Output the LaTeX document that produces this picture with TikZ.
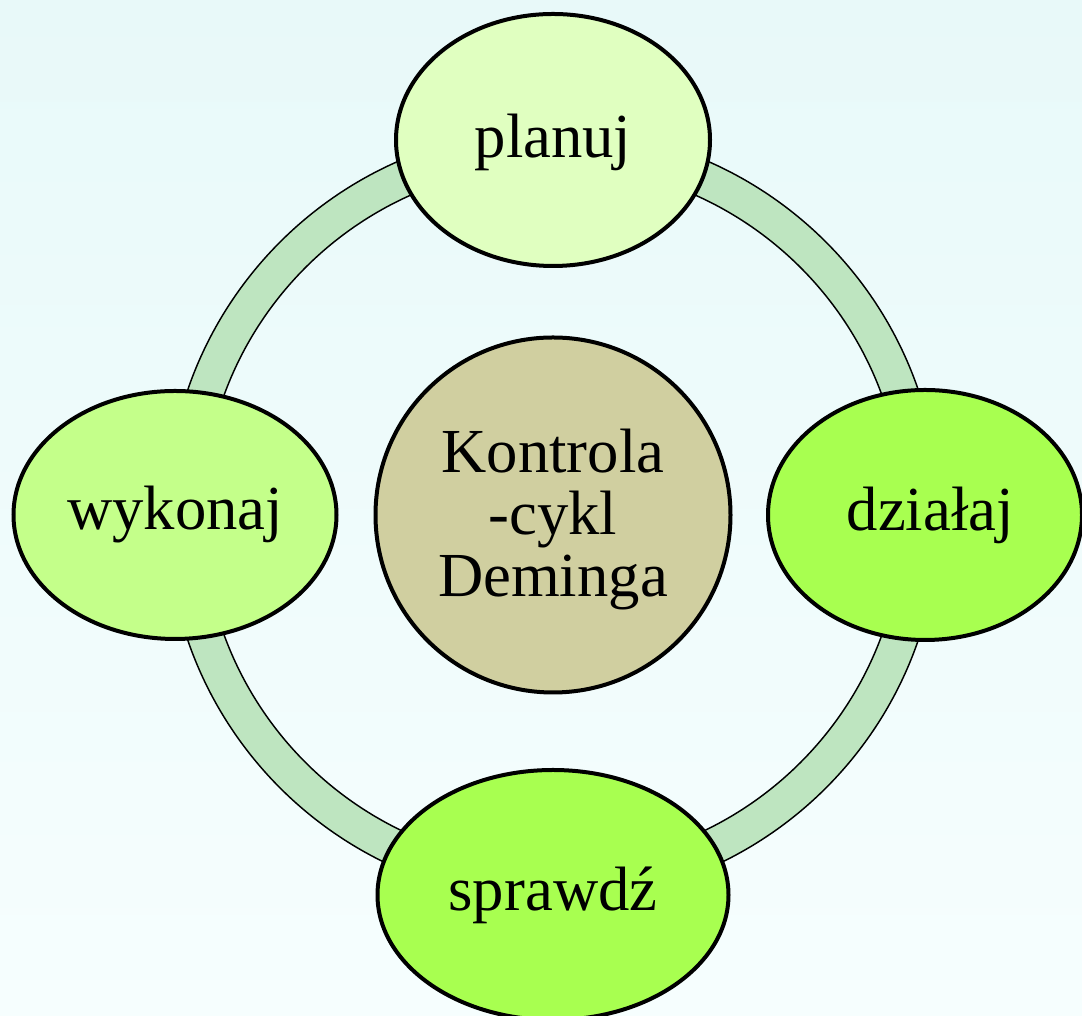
\documentclass[tikz,border=0pt]{standalone}
\usepackage{fontspec}
\setmainfont{Liberation Serif}
\usetikzlibrary{shapes.geometric}
\definecolor{bgtop}{HTML}{E8F9F9}
\definecolor{bgmid}{HTML}{B9EEEE}
\definecolor{bgbot}{HTML}{F6FEFE}
\definecolor{ringc}{HTML}{BEE5C0}
\definecolor{cplan}{HTML}{E0FFC0}
\definecolor{cwyk}{HTML}{C4FF8A}
\definecolor{cdz}{HTML}{A8FF50}
\definecolor{cctr}{HTML}{D0CFA0}
\begin{document}
\begin{tikzpicture}[x=0.75pt,y=0.75pt,
  phase/.style={ellipse, draw=black, line width=3pt, inner sep=0pt,
    font=\fontsize{47}{46.5}\selectfont, align=center},
  ring/.style={draw=black, line width=1.1pt}]
\useasboundingbox (0,0) rectangle (1082,1016);
\clip (0,0) rectangle (1082,1016);
\shade[top color=bgtop, middle color=bgmid, bottom color=bgbot] (0,0) rectangle (1082,1016);
\coordinate (c) at (553,501);
\fill[ringc, even odd rule] (c) circle[radius=386] circle[radius=350];
\draw[ring] (c) circle[radius=386];
\draw[ring] (c) circle[radius=350];
\node[circle, draw=black, line width=3pt, fill=cctr, minimum size=355*0.75pt, inner sep=0pt,
  font=\fontsize{47}{46.5}\selectfont] (ctr) at (c)
  {\raisebox{0pt}[\dimexpr\height+11pt\relax][\depth]{\begin{tabular}{@{}c@{}}Kontrola\\-cykl\\Deminga\end{tabular}}};
\node[phase, fill=cplan, minimum width=314*0.75pt, minimum height=252*0.75pt] (plan) at (553,876) {\raisebox{0pt}[\dimexpr\height+4pt\relax][\depth]{planuj}};
\node[phase, fill=cwyk, minimum width=323*0.75pt, minimum height=248*0.75pt] (wyk) at (175,501) {wykonaj};
\node[phase, fill=cdz, minimum width=314*0.75pt, minimum height=250*0.75pt] (dz) at (925,501) {\hspace*{8pt}działaj};
\node[phase, fill=cdz, minimum width=351*0.75pt, minimum height=250*0.75pt] (spr) at (553,121) {sprawdź};
\end{tikzpicture}
\end{document}
